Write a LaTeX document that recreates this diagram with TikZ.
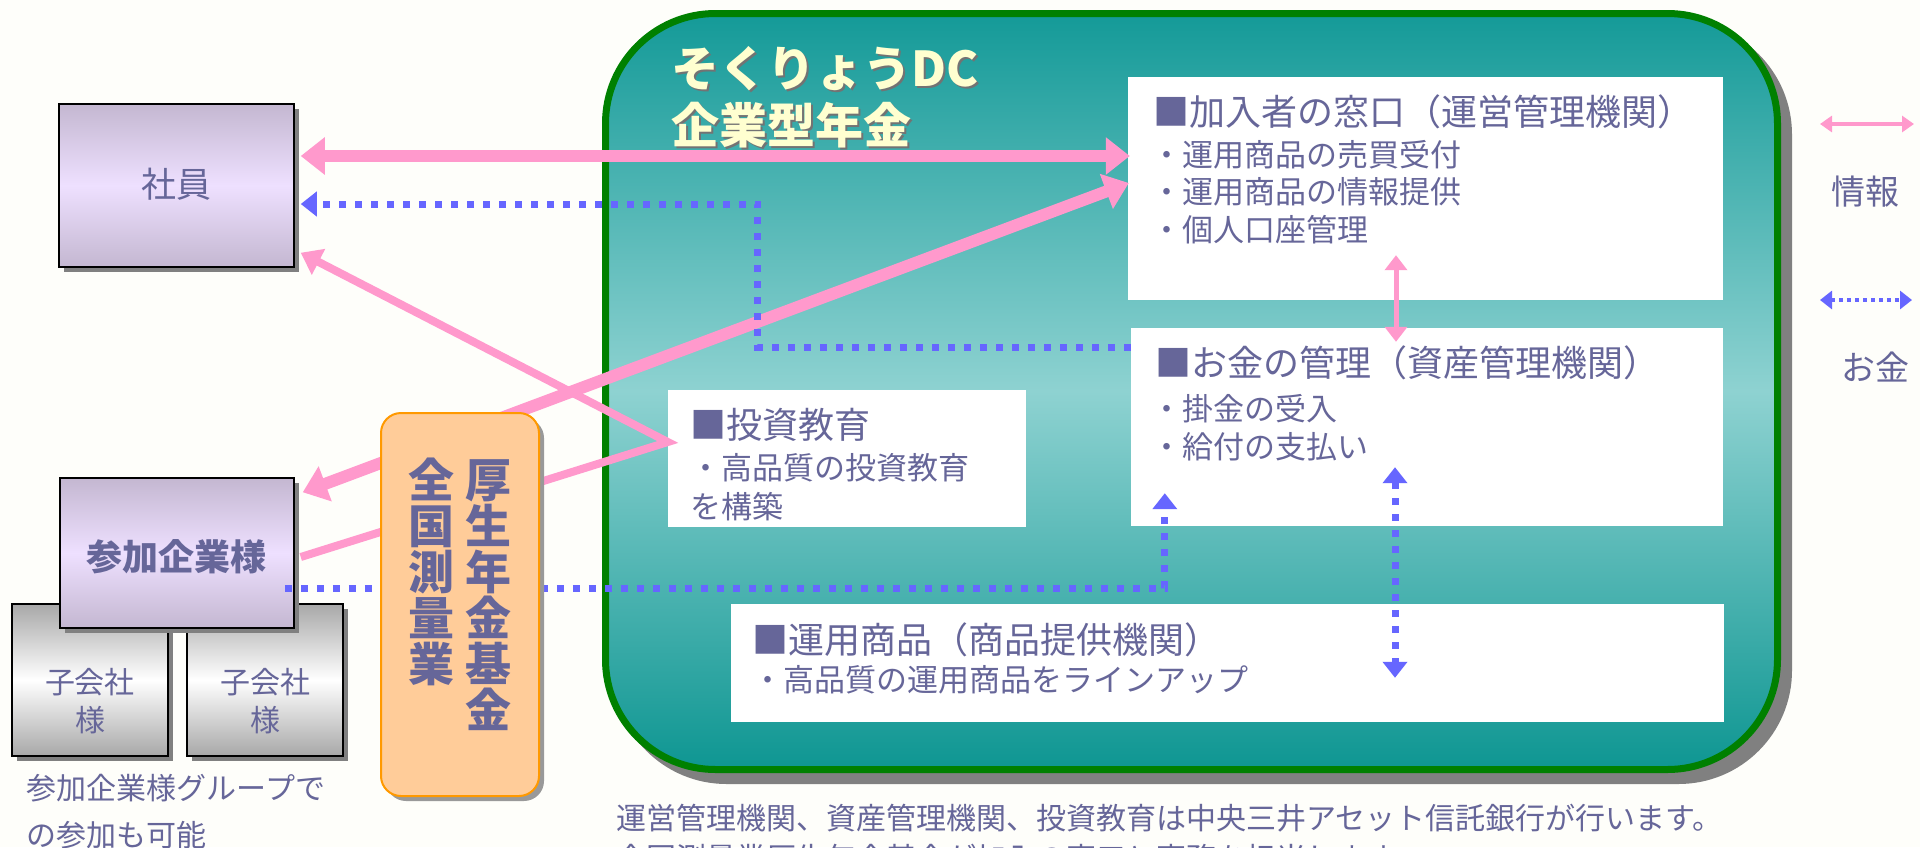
\documentclass[tikz,border=0pt]{standalone}
\usepackage{fontspec}
\setmainfont{Noto Sans CJK JP}
\usetikzlibrary{arrows.meta,calc}
\definecolor{txtc}{RGB}{102,102,153}
\definecolor{pinkc}{RGB}{255,153,204}
\definecolor{bluec}{RGB}{102,102,255}
\definecolor{tealA}{RGB}{20,154,152}
\definecolor{tealB}{RGB}{142,210,209}
\definecolor{tealC}{RGB}{14,150,146}
\definecolor{greenb}{RGB}{0,128,0}
\definecolor{shadowc}{RGB}{128,128,128}
\definecolor{lavA}{RGB}{196,183,209}
\definecolor{lavB}{RGB}{238,224,255}
\definecolor{grayA}{RGB}{168,168,168}
\definecolor{orangeF}{RGB}{255,204,153}
\definecolor{orangeD}{RGB}{255,153,0}
\definecolor{creamc}{RGB}{255,255,208}
\definecolor{bgc}{RGB}{254,254,250}
\newcommand\fsz[2]{\fontsize{#1pt}{#2pt}\selectfont}
\begin{document}
\begin{tikzpicture}[x=1pt,y=-1pt,
  txt/.style={text=txtc, inner sep=0pt, outer sep=0pt},
  shadowfive/.style={preaction={fill=shadowc, transform canvas={xshift=5pt,yshift=-5pt}}},
  lavbox/.style={shadowfive, draw=black, line width=1.5pt, top color=lavA, bottom color=lavA, middle color=lavB, inner sep=0pt},
  graybox/.style={shadowfive, draw=black, line width=1.5pt, top color=grayA, bottom color=grayA, middle color=white, inner sep=0pt},
  whitebox/.style={fill=white, inner sep=0pt},
  orbox/.style={draw=orangeD, line width=2pt, fill=orangeF, rounded corners=20pt, inner sep=0pt,
     preaction={fill=shadowc!80, transform canvas={xshift=5pt,yshift=-5pt}}},
  dcbox/.style={draw=greenb, line width=7pt, rounded corners=110pt, top color=tealA, bottom color=tealC, middle color=tealB, inner sep=0pt,
     preaction={draw=shadowc, fill=shadowc, line width=7pt, transform canvas={xshift=11pt,yshift=-11pt}}},
  thickpink/.style={draw=pinkc, line width=12pt, arrows={Triangle[width=36pt,length=24pt]-Triangle[width=36pt,length=24pt]}},
  thinpink/.style={draw=pinkc, line width=8pt, line join=miter, arrows={Triangle[width=28pt,length=20pt]-}},
  midpink/.style={draw=pinkc, line width=5pt, arrows={Triangle[width=22pt,length=15pt]-Triangle[width=22pt,length=15pt]}},
  bluedot/.style={draw=bluec, line width=7pt, dash pattern=on 7pt off 9pt},
  bluetip/.style={arrows={-Triangle[width=24pt,length=16pt]}},
  bluetips/.style={arrows={Triangle[width=24pt,length=16pt]-Triangle[width=24pt,length=16pt]}},
  legpink/.style={draw=pinkc, line width=4pt, arrows={Triangle[width=16pt,length=12pt]-Triangle[width=16pt,length=12pt]}},
  legblue/.style={draw=bluec, line width=4pt, dash pattern=on 4pt off 4pt, arrows={Triangle[width=18pt,length=12pt]-Triangle[width=18pt,length=12pt]}},
  boxtitle/.style={txt, anchor=west, font=\fsz{36}{40}},
  boxline/.style={txt, anchor=west, font=\fsz{31}{36}},
  dctitle/.style={inner sep=0pt, anchor=west, font=\fsz{48}{52}\bfseries}
]
\useasboundingbox (0,0) rectangle (1920,847);
\fill[bgc] (0,0) rectangle (1920,847);

% main container
\node[dcbox, minimum width=1172pt, minimum height=756pt] (dc) at (1191.5,391.5) {};
\node[dctitle, text=black!55] (t1s) at (673,71) {そくりょうDC};
\node[dctitle, text=creamc] (t1) at (671,69) {そくりょうDC};
\node[dctitle, text=black!55] (t2s) at (673,127) {企業型年金};
\node[dctitle, text=creamc] (t2) at (671,125) {企業型年金};

% white boxes
\node[whitebox, minimum width=595pt, minimum height=223pt] (kanyu) at (1425.5,188.5) {};
\node[whitebox, minimum width=592pt, minimum height=198pt] (okane) at (1427,427) {};
\node[whitebox, minimum width=358pt, minimum height=137pt] (kyoiku) at (847,458.5) {};
\node[whitebox, minimum width=993pt, minimum height=118pt] (unyo) at (1227.5,663) {};

% left boxes
\node[graybox, minimum width=156pt, minimum height=152pt] (ko1) at (90,680) {};
\node[graybox, minimum width=156pt, minimum height=152pt] (ko2) at (265,680) {};
\node[lavbox, minimum width=234pt, minimum height=150pt] (sanka) at (177,553) {};
\node[lavbox, minimum width=235pt, minimum height=163pt] (shain) at (176.5,185.5) {};

\node[txt, font=\fsz{35}{40}] (shainT) at (176,184) {社員};
\node[txt, font=\fsz{36}{40}\bfseries] (sankaT) at (176,557) {参加企業様};
\node[txt, font=\fsz{30}{38}, align=center] (ko1T) at (90,701) {子会社\\様};
\node[txt, font=\fsz{30}{38}, align=center] (ko2T) at (265,701) {子会社\\様};
\node[txt, font=\fsz{30}{47}, align=left, anchor=west] (capT) at (27,811.5) {参加企業様グループで\\の参加も可能};

% pink arrows
\draw[thickpink] ($(shain.east)+(6,-29.5)$) -- ($(kanyu.west)+(2,-32.5)$);
\draw[thickpink] ($(sanka.north east)+(8,15)$) -- ($(kanyu.west)+(1,-5.5)$);
\coordinate (vtx) at ($(kyoiku.west)+(0,-16.5)$);
\draw[thinpink] ($(shain.south east)+(6,-15)$) -- (vtx) -- ($(sanka.east)+(6,4)$);
\draw[midpink] ($(kanyu.south)+(-29.5,-45)$) -- ($(okane.north)+(-31,14)$);

% blue dotted arrows
\draw[bluedot, bluetip] ($(okane.west)+(0,-80)$) -- ++(-373,0) |- ($(shain.east)+(6,18.5)$);
\draw[bluedot, bluetip] ($(sanka.east)+(-10,35)$) -| ($(okane.south west)+(34,-33)$);
\draw[bluedot, bluetips] ($(okane.south)+(-32,-59)$) -- ($(unyo.north)+(167.5,74)$);

% orange box
\node[orbox, minimum width=158pt, minimum height=383pt] (kikin) at (460,604.5) {};
\node[txt, font=\fsz{46}{46}\bfseries, align=center] (kikinR) at (488,595) {厚\\生\\年\\金\\基\\金};
\node[txt, font=\fsz{46}{46}\bfseries, align=center] (kikinL) at (431,572) {全\\国\\測\\量\\業};

% texts in white boxes
\node[boxtitle] (kanyuT) at (1153,112) {■加入者の窓口（運営管理機関）};
\node[boxline] (kanyu1) at (1151,155) {・運用商品の売買受付};
\node[boxline] (kanyu2) at (1151,192) {・運用商品の情報提供};
\node[boxline] (kanyu3) at (1151,230) {・個人口座管理};

\node[boxtitle] (okaneT) at (1155,363) {■お金の管理（資産管理機関）};
\node[boxline] (okane1) at (1151,409) {・掛金の受入};
\node[boxline] (okane2) at (1151,447) {・給付の支払い};

\node[boxtitle] (kyoikuT) at (690,425) {■投資教育};
\node[boxline] (kyoiku1) at (690,468) {・高品質の投資教育};
\node[boxline] (kyoiku2) at (690,507) {を構築};

\node[boxtitle] (unyoT) at (752,640) {■運用商品（商品提供機関）};
\node[boxline] (unyo1) at (752,680) {・高品質の運用商品をラインアップ};

% legend
\coordinate (lp1) at (1820,124);
\coordinate (lp2) at (1914,124);
\draw[legpink] (lp1) -- (lp2);
\node[txt, font=\fsz{34}{38}] (leg1) at (1865,192) {情報};
\coordinate (lb1) at (1820,300);
\coordinate (lb2) at (1912,300);
\draw[legblue] (lb1) -- (lb2);
\node[txt, font=\fsz{34}{38}] (leg2) at (1875,367) {お金};

% bottom note
\node[txt, anchor=west, font=\fsz{30}{36}] (note1) at (616,818) {運営管理機関、資産管理機関、投資教育は中央三井アセット信託銀行が行います。};
\node[txt, anchor=west, font=\fsz{30}{36}] (note2) at (616,858) {全国測量業厚生年金基金が加入の窓口と事務を担当します。};
\end{tikzpicture}
\end{document}
